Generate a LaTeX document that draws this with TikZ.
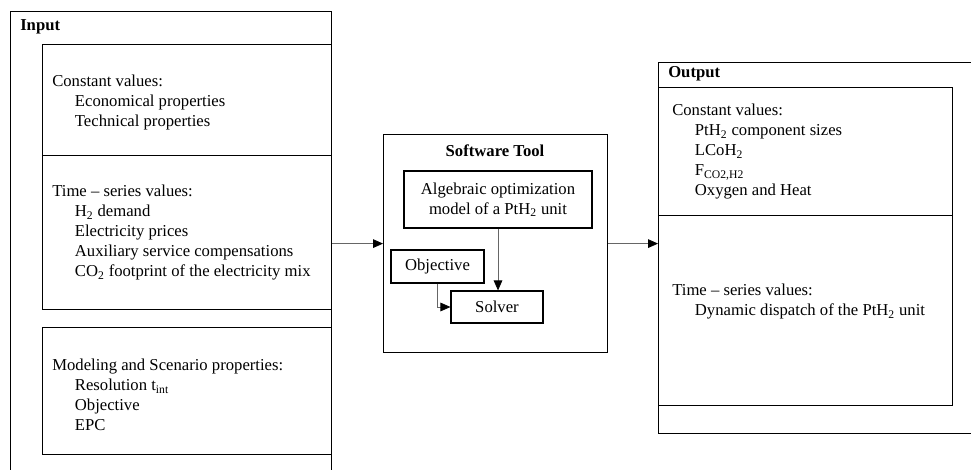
\documentclass[tikz,border=0pt]{standalone}
\usepackage{fontspec}
\setmainfont{Liberation Serif}
\usetikzlibrary{arrows.meta}
\usetikzlibrary{positioning}

\newcommand\indline{\hspace*{17pt}}

\begin{document}
\begin{tikzpicture}[
        x = 0.75pt, y = -0.75pt,
        every node/.style={font=\fontsize{12.5}{15}\selectfont},
        box/.style={draw,line width=0.9pt,inner sep=0pt},
        txt/.style={align=left,inner sep=0pt,anchor=west},
        title/.style={inner sep=0pt,anchor=west,font=\fontsize{12.5}{15}\selectfont\bfseries},
        flow/.style={-{Triangle[black,length=7.5pt,width=6.5pt]},draw=black!60,line width=0.6pt}
        ]
        \useasboundingbox (0,0) rectangle (971,470);
        \clip (0,0) rectangle (971,470);

        % input side
        \node[box,minimum width=321*0.75pt,minimum height=479*0.75pt,anchor=north west] (input) at (10,11) {};
        \node[title] (inputtitle) at (20,27) {Input};
        \node[box,minimum width=289*0.75pt,minimum height=111*0.75pt,anchor=north west] (inconst) at (42,44) {};
        \node[box,minimum width=289*0.75pt,minimum height=154*0.75pt,anchor=north west] (inseries) at (42,155) {};
        \node[box,minimum width=289*0.75pt,minimum height=127*0.75pt,anchor=north west] (inmodel) at (42,327) {};
        \node[txt] (inconsttext) at (52,102) {Constant values:\\
          \indline Economical properties\\
          \indline Technical properties};
        \node[txt] (inseriestext) at (52,233) {Time -- series values:\\
          \indline H\textsubscript{2} demand\\
          \indline Electricity prices\\
          \indline Auxiliary service compensations\\
          \indline CO\textsubscript{2} footprint of the electricity mix};
        \node[txt] (inmodeltext) at (52,395) {Modeling and Scenario properties:\\
          \indline Resolution t\textsubscript{int}\\
          \indline Objective\\
          \indline EPC};

        % software tool
        \node[box,minimum width=224*0.75pt,minimum height=218*0.75pt,anchor=north west] (tool) at (383,134) {};
        \node[inner sep=0pt,font=\fontsize{12.5}{15}\selectfont\bfseries] (tooltitle) at (495,151) {Software Tool};
        \node[box,minimum width=188*0.75pt,minimum height=57*0.75pt,align=center] (model) at (498,199.5) {Algebraic optimization\\model of a PtH\textsubscript{2} unit};
        \node[box,minimum width=93*0.75pt,minimum height=33*0.75pt] (objective) at (437.5,266.5) {Objective};
        \node[box,minimum width=92*0.75pt,minimum height=32*0.75pt] (solver) at (497,307) {Solver};
        \draw[flow] (model.south) -- (model.south |- solver.north);
        \draw[flow] (objective.south) |- (solver.west);

        % output side
        \node[box,minimum width=332*0.75pt,minimum height=371*0.75pt,anchor=north west] (output) at (658,62) {};
        \node[title] (outputtitle) at (668,74) {Output};
        \node[box,minimum width=294*0.75pt,minimum height=128*0.75pt,anchor=north west] (outconst) at (658,87) {};
        \node[box,minimum width=294*0.75pt,minimum height=190*0.75pt,anchor=north west] (outseries) at (658,215) {};
        \node[txt] (outconsttext) at (672,152) {Constant values:\\
          \indline PtH\textsubscript{2} component sizes\\
          \indline LCoH\textsubscript{2}\\
          \indline F\textsubscript{CO2,H2}\\
          \indline Oxygen and Heat};
        \node[txt] (outseriestext) at (672,302) {Time -- series values:\\
          \indline Dynamic dispatch of the PtH\textsubscript{2} unit};

        \draw[flow] (tool.west -| input.east) -- (tool.west);
        \draw[flow] (tool.east) -- (tool.east -| output.west);
      \end{tikzpicture}
\end{document}
